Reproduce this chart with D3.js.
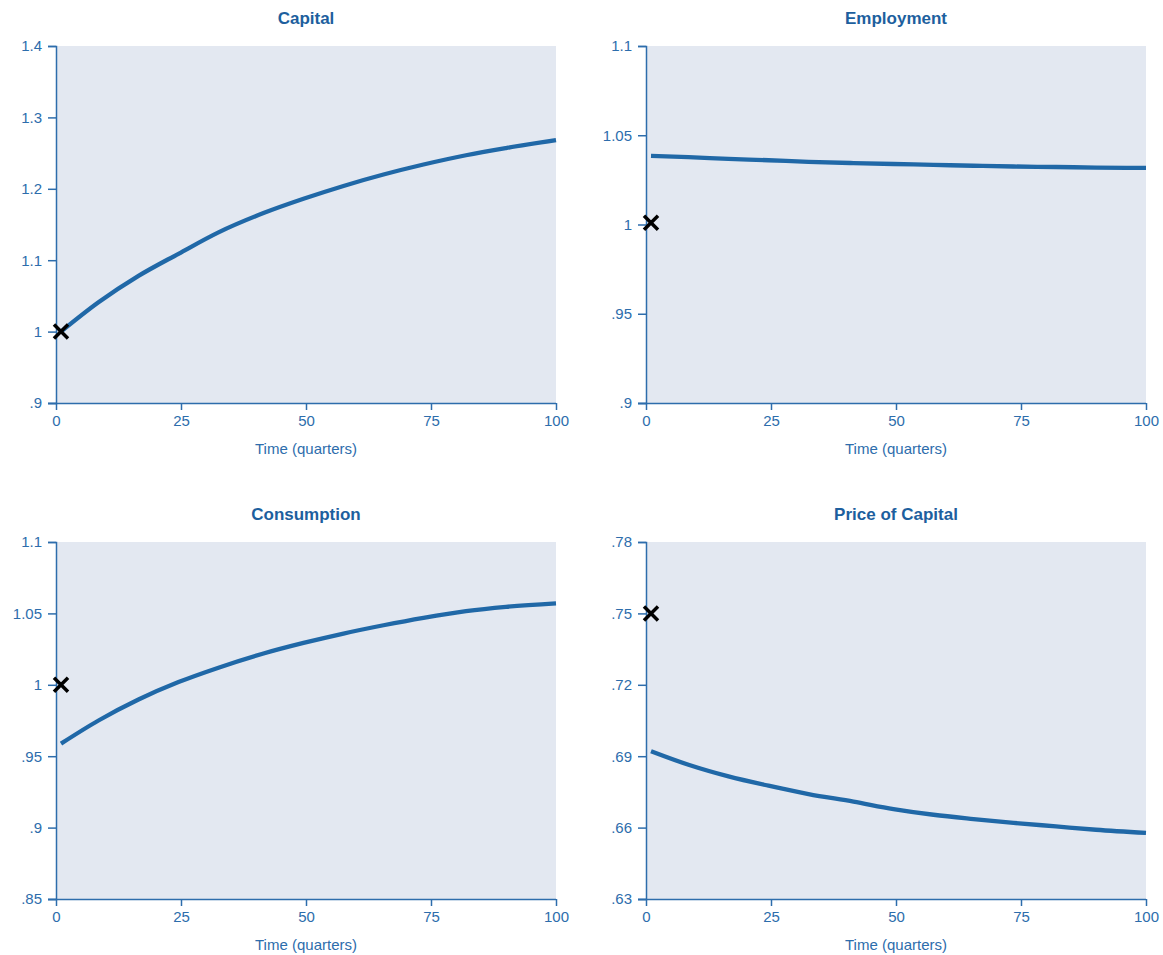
<!DOCTYPE html>
<html>
<head>
<meta charset="utf-8">
<script src="https://cdn.jsdelivr.net/npm/d3@7"></script>
<style>
  body { margin: 0; background: #fff; font-family: "Liberation Sans", Arial, sans-serif; }
</style>
</head>
<body>
<div id="chart"></div>
<script>
// time points of the simulated paths (quarters)
const quarters = [1, 8.5, 16.5, 24.5, 32.5, 41.5, 49.5, 57.5, 65.5, 73.5, 82, 90, 100];

const capital     = [1.000, 1.041, 1.078, 1.109, 1.139, 1.166, 1.186, 1.204, 1.220, 1.234, 1.247, 1.257, 1.268];
const employment  = [1.0384, 1.0377, 1.0368, 1.0360, 1.0351, 1.0344, 1.0339, 1.0334, 1.0329, 1.0325, 1.0322, 1.0319, 1.0317];
const consumption = [0.9588, 0.975, 0.9897, 1.0019, 1.0120, 1.0219, 1.0293, 1.0359, 1.0417, 1.0469, 1.0516, 1.0546, 1.057];
const priceCap    = [0.6921, 0.6864, 0.6815, 0.6776, 0.6741, 0.6709, 0.6678, 0.6654, 0.6636, 0.6620, 0.6605, 0.6591, 0.6578];

// steady state markers (x)
const markerT = 1;
const markers = [1.0, 1.001, 1.0, 0.75];

const titles = ["Capital", "Employment", "Consumption", "Price of Capital"];
const yDomains = [[0.9, 1.4], [0.9, 1.1], [0.85, 1.1], [0.63, 0.78]];
const yTicks = [
  [0.9, 1.0, 1.1, 1.2, 1.3, 1.4],
  [0.9, 0.95, 1.0, 1.05, 1.1],
  [0.85, 0.9, 0.95, 1.0, 1.05, 1.1],
  [0.63, 0.66, 0.69, 0.72, 0.75, 0.78]
];
const xTicks = [0, 25, 50, 75, 100];
const series = [capital, employment, consumption, priceCap];

const width = 1163, height = 955;
const textBlue = "#2d6dac", titleBlue = "#1d5f9e", lineBlue = "#2068a7", bg = "#e3e8f1";

const svg = d3.select("#chart").append("svg")
  .attr("width", width).attr("height", height);

// strip the leading zero like ".9"
function fmt(v) {
  let s = d3.format("~g")(+v.toFixed(3));
  return s.replace(/^0\./, ".");
}

const panelX = [56, 646], panelY = [46, 542];
const pw = 500, ph = 357;

series.forEach((vals, i) => {
  const px = panelX[i % 2], py = panelY[Math.floor(i / 2)];
  const g = svg.append("g").attr("transform", `translate(${px},${py})`);

  const x = d3.scaleLinear().domain([0, 100]).range([0, pw]);
  const y = d3.scaleLinear().domain(yDomains[i]).range([ph, 0]);

  g.append("rect").attr("width", pw).attr("height", ph).attr("fill", bg);

  const yAxis = g.append("g")
    .call(d3.axisLeft(y).tickValues(yTicks[i]).tickFormat(fmt).tickSize(8).tickPadding(6));
  const xAxis = g.append("g").attr("transform", `translate(0,${ph})`)
    .call(d3.axisBottom(x).tickValues(xTicks).tickSize(7).tickPadding(5));

  [yAxis, xAxis].forEach(a => {
    a.select(".domain").attr("stroke", textBlue).attr("stroke-width", 1.5);
    a.selectAll(".tick line").attr("stroke", textBlue).attr("stroke-width", 1.5);
    a.selectAll(".tick text").attr("fill", textBlue)
      .style("font-size", "15px").style("font-family", "Liberation Sans, Arial, sans-serif");
  });
  // extend bottom domain under the left axis tick
  xAxis.select(".domain").attr("d", `M-8,0.5H${pw}`);

  const line = d3.line().x((d, j) => x(quarters[j])).y(d => y(d)).curve(d3.curveMonotoneX);
  g.append("path").datum(vals)
    .attr("d", line)
    .attr("fill", "none")
    .attr("stroke", lineBlue)
    .attr("stroke-width", 4.3)
    .attr("stroke-linejoin", "round");

  // marker
  g.append("path")
    .attr("d", d3.symbol(d3.symbolTimes, 130)())
    .attr("transform", `translate(${x(markerT)},${y(markers[i])})`)
    .attr("fill", "none")
    .attr("stroke", "#000")
    .attr("stroke-width", 3.5);

  g.append("text")
    .attr("x", pw / 2).attr("y", -22)
    .attr("text-anchor", "middle")
    .attr("fill", titleBlue)
    .style("font-size", "17px").style("font-weight", "bold")
    .text(titles[i]);

  g.append("text")
    .attr("x", pw / 2).attr("y", ph + 51)
    .attr("text-anchor", "middle")
    .attr("fill", textBlue)
    .style("font-size", "15px")
    .text("Time (quarters)");
});
</script>
</body>
</html>
